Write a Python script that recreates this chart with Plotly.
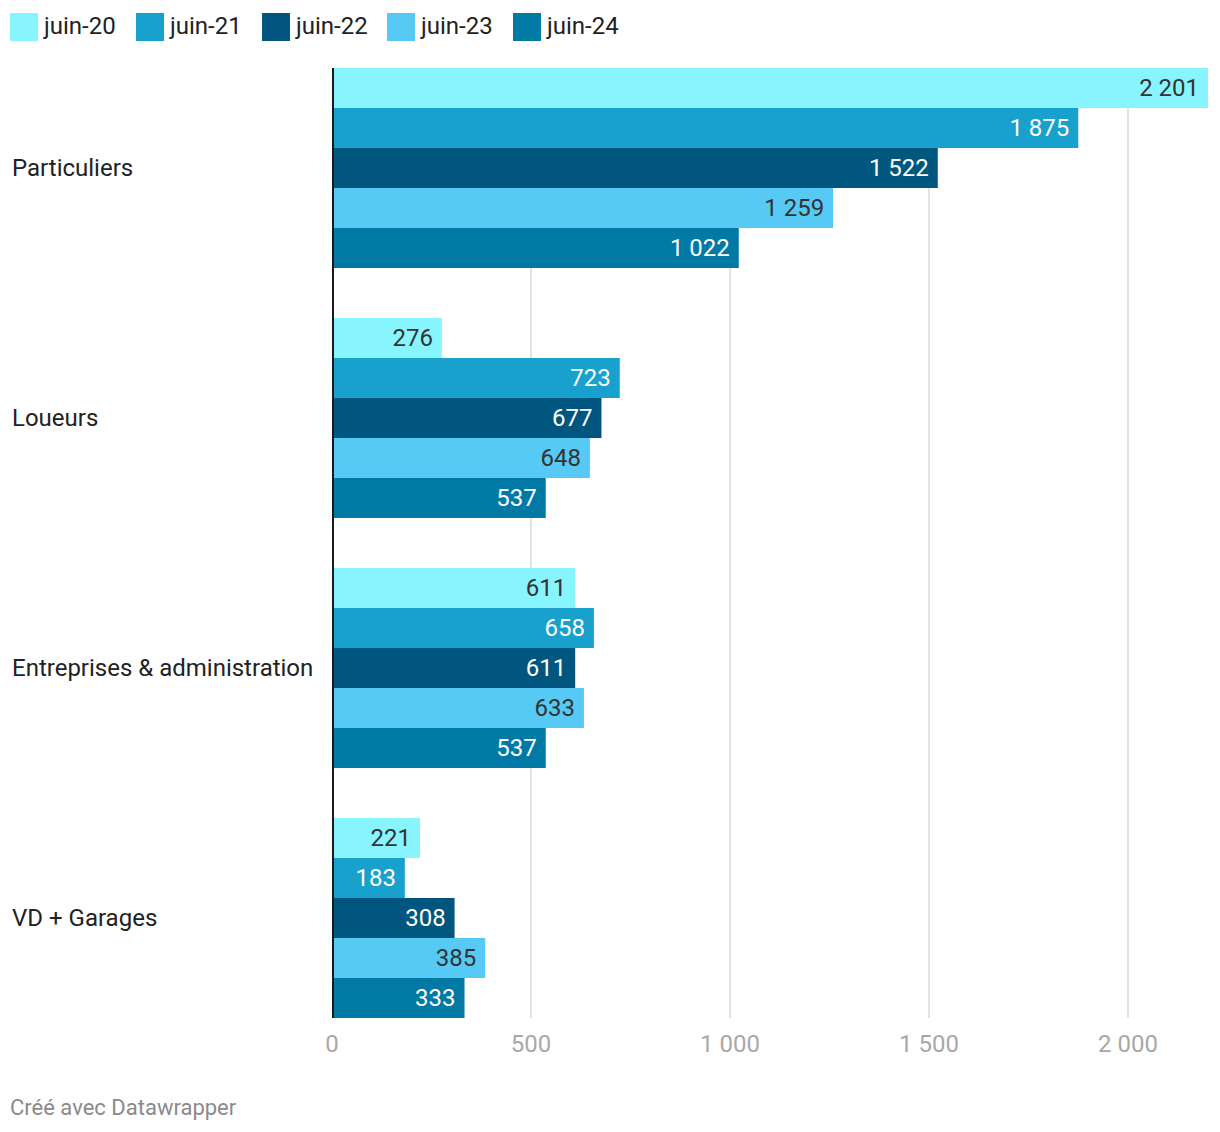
import plotly.graph_objects as go

categories = ["Particuliers", "Loueurs", "Entreprises & administration", "VD + Garages"]
series_names = ["juin-20", "juin-21", "juin-22", "juin-23", "juin-24"]
values = {
    "juin-20": [2201, 276, 611, 221],
    "juin-21": [1875, 723, 658, 183],
    "juin-22": [1522, 677, 611, 308],
    "juin-23": [1259, 648, 633, 385],
    "juin-24": [1022, 537, 537, 333],
}
colors = {
    "juin-20": "#88f5fe",
    "juin-21": "#18a1cd",
    "juin-22": "#00567e",
    "juin-23": "#56c9f5",
    "juin-24": "#0079a5",
}
label_colors = {
    "juin-20": "#333333",
    "juin-21": "#ffffff",
    "juin-22": "#ffffff",
    "juin-23": "#333333",
    "juin-24": "#ffffff",
}
x_ticks = [0, 500, 1000, 1500, 2000]
x_max = 2201

W, H = 1220, 1132
ML, MR, MT, MB = 332, 12, 68, 114
FONT = "Roboto"
FS = 24


def fmt(v):
    return f"{v:,}".replace(",", " ")


fig = go.Figure()
for name in series_names:
    vals = values[name]
    fig.add_trace(go.Bar(
        name=name,
        y=categories,
        x=vals,
        orientation="h",
        marker=dict(color=colors[name], line=dict(width=0)),
        text=[fmt(v) + "\u00a0" for v in vals],
        textposition="inside",
        insidetextanchor="end",
        textfont=dict(family=FONT, size=FS, color=label_colors[name]),
        constraintext="none",
        showlegend=False,
        hoverinfo="skip",
    ))

plot_w = W - ML - MR
plot_h = H - MT - MB

# category labels (left aligned)
for cat in categories:
    fig.add_annotation(
        x=(10 - ML) / plot_w, xref="paper", xanchor="left",
        y=cat, yref="y", yanchor="middle",
        text=cat, showarrow=False,
        font=dict(family=FONT, size=FS, color="#222222"),
    )

# manual legend
leg_x = [10, 136, 262, 387, 513]
for i, name in enumerate(series_names):
    x0 = (leg_x[i] - ML) / plot_w
    x1 = (leg_x[i] + 28 - ML) / plot_w
    y_top = 1 + (MT - 13) / plot_h
    y_bot = 1 + (MT - 41) / plot_h
    fig.add_shape(type="rect", xref="paper", yref="paper",
                  x0=x0, x1=x1, y0=y_bot, y1=y_top,
                  fillcolor=colors[name], line=dict(width=0))
    fig.add_annotation(
        x=(leg_x[i] + 31 - ML) / plot_w, xref="paper", xanchor="left",
        y=1 + (MT - 26) / plot_h, yref="paper", yanchor="middle",
        text=name, showarrow=False,
        font=dict(family=FONT, size=FS, color="#222222"),
    )

# footer
fig.add_annotation(
    x=(8 - ML) / plot_w, xref="paper", xanchor="left",
    y=-(1107 - (H - MB)) / plot_h, yref="paper", yanchor="middle",
    text="Créé avec Datawrapper", showarrow=False,
    font=dict(family=FONT, size=22, color="#8a8a8a"),
)

# baseline (zero) line
fig.add_shape(type="line", xref="paper", yref="paper",
              x0=1 / plot_w, x1=1 / plot_w, y0=0, y1=1,
              line=dict(color="#1a1a1a", width=2), layer="above")

fig.update_layout(
    width=W, height=H,
    margin=dict(l=ML, r=MR, t=MT, b=MB, pad=0),
    paper_bgcolor="white", plot_bgcolor="white",
    barmode="group", bargap=0.2, bargroupgap=0,
    separators=", ",
    font=dict(family=FONT),
    showlegend=False,
    xaxis=dict(
        range=[0, x_max],
        tickvals=x_ticks,
        ticktext=[fmt(v) for v in x_ticks],
        showgrid=True, gridcolor="#e3e3e3", gridwidth=2,
        zeroline=False,
        showline=False,
        ticks="outside", ticklen=4, tickcolor="rgba(0,0,0,0)",
        tickfont=dict(family=FONT, size=FS, color="#a8a8a8"),
        fixedrange=True,
    ),
    yaxis=dict(
        range=[3.4, -0.4],
        showticklabels=False, showgrid=False, zeroline=False,
        showline=False,
        ticks="", fixedrange=True,
    ),
)

fig.write_html("out.html")
